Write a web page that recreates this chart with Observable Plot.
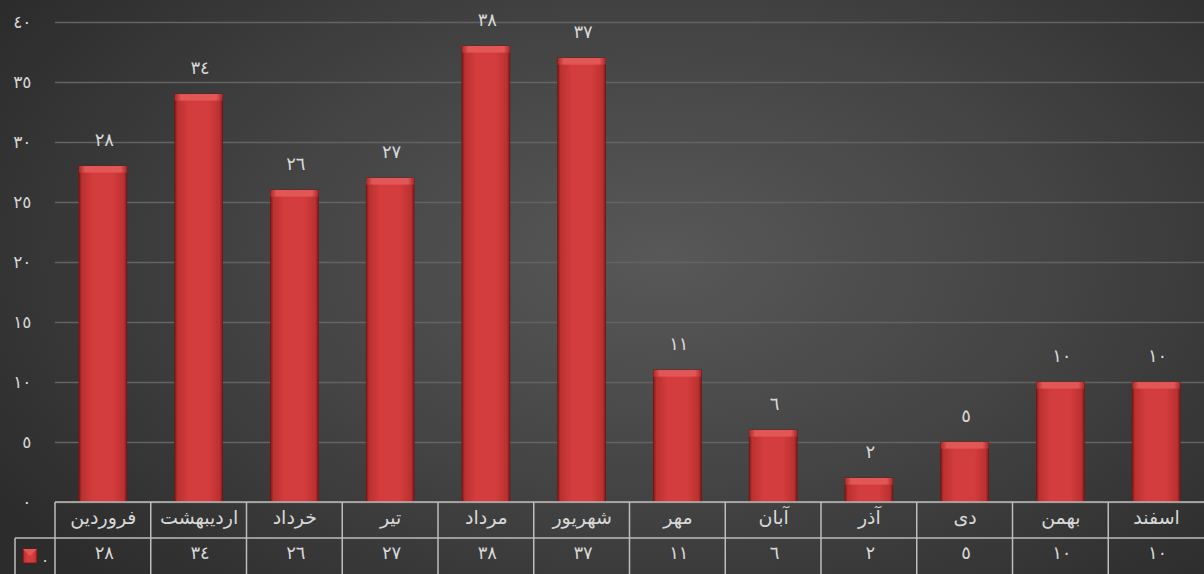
<!DOCTYPE html>
<html><head><meta charset="utf-8">
<script src="https://cdn.jsdelivr.net/npm/d3@7"></script>
<script src="https://cdn.jsdelivr.net/npm/@observablehq/plot@0.6"></script>
<style>
html,body{margin:0;padding:0;background:#2c2c2c;overflow:hidden;}
.dg text, text.dg{letter-spacing:2.5px;}
</style></head><body><div id="chart"></div>
<script>
const months = ["فروردین","اردیبهشت","خرداد","تیر","مرداد","شهریور","مهر","آبان","آذر","دی","بهمن","اسفند"];
const values = [28,34,26,27,38,37,11,6,2,5,10,10];
const yTicks = [0,5,10,15,20,25,30,35,40];
const seriesName = ".";

const fa = n => String(n).replace(/\d/g, d => String.fromCharCode(0x660 + +d));
const data = months.map((m, i) => ({month: m, value: values[i]}));
const W = 1204, H = 574;
const FONT = "'DejaVu Sans', sans-serif";
const TXT = "#d8d8d8";

const defs = () => {
  const g = d3.create("svg:defs");
  const lg = g.append("linearGradient").attr("id", "barGrad").attr("x1", 0).attr("x2", 1).attr("y1", 0).attr("y2", 0);
  [[0, "#7e1a1a"], [0.06, "#bb3030"], [0.3, "#d43d3d"], [0.7, "#d43d3d"], [0.94, "#bb3030"], [1, "#7e1a1a"]]
    .forEach(([o, c]) => lg.append("stop").attr("offset", o).attr("stop-color", c));
  const bv = g.append("linearGradient").attr("id", "bevel").attr("x1", 0).attr("x2", 1).attr("y1", 0).attr("y2", 0);
  [[0, "#a82a2a"], [0.13, "#e35656"], [0.87, "#e35656"], [1, "#a82a2a"]]
    .forEach(([o, c]) => bv.append("stop").attr("offset", o).attr("stop-color", c));
  return g.node();
};

const plot = Plot.plot({
  width: W, height: H,
  marginLeft: 55, marginRight: 0, marginTop: 22, marginBottom: 72,
  style: {
    background: "radial-gradient(ellipse 65% 80% at 55% 45%, #585858 0%, #444 50%, #2c2c2c 100%)",
    color: TXT, fontFamily: FONT, fontSize: "17px", overflow: "visible"
  },
  x: {domain: months, paddingInner: 0.5, paddingOuter: 0.25, round: false, axis: null},
  y: {domain: [0, 40], label: null},
  marks: [
    defs,
    Plot.gridY(yTicks, {stroke: "#636363", strokeOpacity: 1, strokeWidth: 1.5}),
    Plot.axisY(yTicks, {tickFormat: fa, tickSize: 0, tickPadding: 24, fontSize: 17, fill: TXT, label: null, className: "dg"}),
    Plot.barY(data, {x: "month", y: "value", fill: "url(#barGrad)", stroke: "#6e1818", strokeWidth: 0.8}),
    Plot.barY(data, {x: "month", y1: d => d.value - 0.55, y2: "value", fill: "url(#bevel)"}),
    Plot.text(data, {x: "month", y: "value", text: d => fa(d.value), dy: -26, dx: 1, fill: TXT, fontSize: 18, className: "dg"}),
    Plot.text(months, {x: d => d, frameAnchor: "bottom", dy: 21, fill: TXT, fontSize: 19}),
    Plot.text(data, {x: "month", text: d => fa(d.value), frameAnchor: "bottom", dy: 56, dx: 1, fill: TXT, fontSize: 18, className: "dg"})
  ]
});

// data table grid, positioned from the plot's own scales
const sx = plot.scale("x"), sy = plot.scale("y");
const x0 = sx.range[0], x1 = sx.range[1];
const step = sx.step;
const y0 = sy.apply(0);
const rowH = (H - y0) / 2;
const svg = d3.select(plot);
const g = svg.append("g").attr("stroke", "#bdbdbd").attr("stroke-width", 1.5).attr("fill", "none");
g.append("line").attr("x1", x0).attr("x2", x1).attr("y1", y0).attr("y2", y0);
g.append("line").attr("x1", 15).attr("x2", x1).attr("y1", y0 + rowH).attr("y2", y0 + rowH);
g.append("line").attr("x1", 15).attr("x2", 15).attr("y1", y0 + rowH).attr("y2", H);
months.forEach((m, i) => {
  const xb = sx.apply(m) + sx.bandwidth / 2 - step / 2;
  g.append("line").attr("x1", xb).attr("x2", xb).attr("y1", y0).attr("y2", H);
});
// legend key
svg.append("rect").attr("x", 23).attr("y", y0 + rowH + 11).attr("width", 14).attr("height", 14)
  .attr("fill", "url(#barGrad)").attr("stroke", "#6e1818").attr("stroke-width", 0.8);
svg.append("path").attr("d", `M23,${y0 + rowH + 11}h14l-7,7z`).attr("fill", "#e35656");
svg.append("text").attr("x", 45).attr("y", y0 + rowH + 24).attr("text-anchor", "middle")
  .attr("fill", TXT).attr("font-size", 16).attr("font-family", FONT).text(seriesName);

document.getElementById("chart").append(plot);
</script></body></html>
